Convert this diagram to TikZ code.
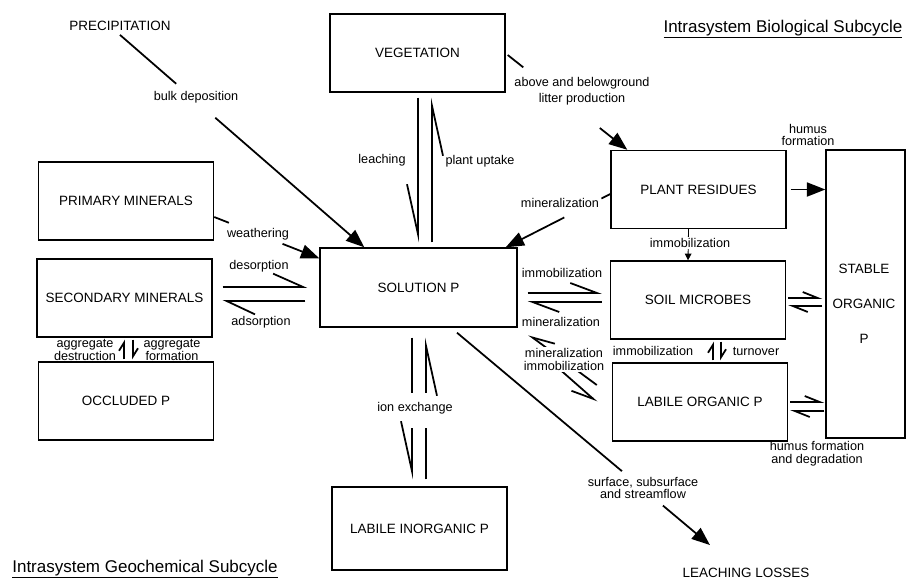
\documentclass[tikz,border=0pt]{standalone}
\usepackage{fontspec}
\setmainfont{Liberation Sans}
\usetikzlibrary{arrows.meta,positioning,calc}

\begin{document}
\begin{tikzpicture}[
    x=0.03cm, y=-0.03cm,
    box/.style={draw, line width=1.2pt, minimum width=5.25cm, minimum height=2.34cm, inner sep=0pt, font=\fontsize{11.5}{13}\selectfont},
    capsfont/.style={font=\fontsize{11.5}{13}\selectfont},
    lbl/.style={font=\fontsize{10.8}{12}\selectfont, align=center, inner sep=1pt},
    subcycle/.style={font=\fontsize{14.5}{16}\selectfont, inner sep=0pt},
    flow/.style={line width=1.5pt},
    bigarrow/.style={flow, -{Triangle[length=0.55cm, width=0.42cm]}},
    harp/.style n args={3}{flow, -{Straight Barb[#1, length=#2, width=#3]}},
    smallarrow/.style={line width=0.7pt, -{Triangle[length=0.2cm, width=0.2cm]}}
]
    \useasboundingbox (0,0) rectangle (907,579);

    % Pools of the geochemical subcycle
    \node[box] (veg) at (417.5,53) {VEGETATION};
    \node[box] (prim) at (126,201) {PRIMARY MINERALS};
    \node[box] (sec) at (124.5,298) {SECONDARY MINERALS};
    \node[box] (occl) at (126,401) {OCCLUDED P};
    \node[box, minimum width=5.91cm, minimum height=2.37cm] (sol) at (418.5,287.5) {SOLUTION P};
    \node[box, minimum height=2.49cm] (linorg) at (419.5,528.5) {LABILE INORGANIC P};

    % Pools of the biological subcycle
    \node[box] (plant) at (698.5,189.5) {PLANT RESIDUES};
    \node[box] (micro) at (698,300) {SOIL MICROBES};
    \node[box] (lorg) at (700,402) {LABILE ORGANIC P};
    \node[box, minimum width=2.37cm, minimum height=8.64cm] (stable) at (865.5,294) {};
    \node[align=center, inner sep=0pt, font=\fontsize{11.5}{29.8}\selectfont] (stabletxt) at (864,304) {STABLE\\ORGANIC\\P};

    % Inputs, outputs and titles
    \node[capsfont] (precip) at (120,26) {PRECIPITATION};
    \node[capsfont] (losses) at (746,573) {LEACHING LOSSES};
    \node[subcycle] (biotitle) at (783,29) {\underline{Intrasystem Biological Subcycle}};
    \node[subcycle] (geotitle) at (145,569) {\underline{Intrasystem Geochemical Subcycle}};

    % Bulk deposition
    \path (precip.south) -- ($(sol.north west)+(45,0)$) coordinate[pos=.23] (dep1) coordinate[pos=.39] (dep2);
    \draw[flow] (precip.south) -- (dep1);
    \draw[bigarrow] (dep2) -- ($(sol.north west)+(45,0)$);
    \node[lbl] (deplbl) at (196,97) {bulk deposition};

    % Weathering
    \path ($(prim.east)+(0,16)$) -- ($(sol.north west)+(0,11)$) coordinate[pos=.14] (wea1) coordinate[pos=.65] (wea2);
    \draw[flow] ($(prim.east)+(0,16)$) -- (wea1);
    \draw[bigarrow] (wea2) -- ($(sol.north west)+(0,11)$);
    \node[lbl] (wealbl) at (258,234) {weathering};

    % Desorption / adsorption
    \draw[harp={left}{0.9cm}{0.8cm}] ($(sec.east)+(10,-11)$) -- ($(sol.west)+(-12,-0.5)$);
    \draw[harp={left}{0.85cm}{0.8cm}] ($(sol.west)+(-14,13.5)$) -- ($(sec.east)+(10,3)$);
    \node[lbl] (desorplbl) at (259,266) {desorption};
    \node[lbl] (adsorplbl) at (261,322) {adsorption};

    % Aggregates
    \draw[harp={left}{0.24cm}{0.3cm}] ($(occl.north)+(-2,-2)$) -- ($(sec.south)+(-0.5,2)$);
    \draw[harp={left}{0.24cm}{0.3cm}] ($(sec.south)+(8.5,2)$) -- ($(occl.north)+(7,-2)$);
    \node[lbl, font=\fontsize{10.8}{9.6}\selectfont] (destrlbl) at (85,350) {aggregate\\destruction};
    \node[lbl, font=\fontsize{10.8}{9.6}\selectfont] (formlbl) at (172,350) {aggregate\\formation};

    % Leaching / plant uptake
    \draw[harp={right}{1.5cm}{0.66cm}] ($(veg.south)+(0.5,5)$) -- ($(sol.north)+(-0.5,-5)$);
    \draw[harp={right}{1.5cm}{0.66cm}] ($(sol.north)+(13.5,-5)$) -- ($(veg.south)+(14.5,5)$);
    \node[lbl] (leachlbl) at (382,160) {leaching};
    \node[lbl] (uptakelbl) at (480,161) {plant uptake};

    % Ion exchange
    \path ($(sol.south)+(-6.5,10)$) -- ($(linorg.north)+(-7.5,-7)$) coordinate[pos=.39] (iondn1) coordinate[pos=.64] (iondn2);
    \draw[flow] ($(sol.south)+(-6.5,10)$) -- (iondn1);
    \draw[harp={right}{1.5cm}{0.66cm}] (iondn2) -- ($(linorg.north)+(-7.5,-7)$);
    \path ($(linorg.north)+(6.5,-7)$) -- ($(sol.south)+(7.5,10)$) coordinate[pos=.36] (ionup1) coordinate[pos=.61] (ionup2);
    \draw[flow] ($(linorg.north)+(6.5,-7)$) -- (ionup1);
    \draw[harp={right}{1.5cm}{0.66cm}] (ionup2) -- ($(sol.south)+(7.5,10)$);
    \node[lbl] (ionlbl) at (415,408) {ion exchange};

    % Litter production
    \path ($(veg.east)+(2,2)$) -- ($(plant.north west)+(17,0)$) coordinate[pos=.13] (lit1) coordinate[pos=.77] (lit2);
    \draw[flow] ($(veg.east)+(2,2)$) -- (lit1);
    \draw[bigarrow] (lit2) -- ($(plant.north west)+(17,0)$);
    \node[lbl, font=\fontsize{10.8}{13.6}\selectfont] (litlbl) at (582,91) {above and belowground\\litter production};

    % Mineralization of plant residues
    \path ($(plant.west)+(0,4.5)$) -- ($(sol.north east)+(-12,0)$) coordinate[pos=.085] (min1) coordinate[pos=.44] (min2);
    \draw[flow] ($(plant.west)+(0,4.5)$) -- (min1);
    \draw[bigarrow] (min2) -- ($(sol.north east)+(-12,0)$);
    \node[lbl] (minlbl) at (560,203) {mineralization};

    % Humus formation
    \draw[bigarrow] ($(plant.east)+(4,0)$) -- (plant.east -| stable.west);
    \node[lbl, font=\fontsize{10.8}{10.2}\selectfont] (humuslbl) at (808,135) {humus\\formation};

    % Immobilization by microbes
    \draw[smallarrow] ($(plant.south)+(-10,0)$) -- ($(micro.north)+(-10,0)$);
    \node[lbl, fill=white] (immolbl) at (690,243) {immobilization};

    % Solution P <-> soil microbes
    \draw[harp={left}{0.8cm}{0.6cm}] ($(sol.east)+(10,5.5)$) -- ($(micro.west)+(-8,-7)$);
    \draw[harp={left}{0.8cm}{0.6cm}] ($(micro.west)+(-8,2)$) -- ($(sol.east)+(10,14.5)$);
    \node[lbl] (smimmolbl) at (562,273) {immobilization};
    \node[lbl] (smminlbl) at (561,322) {mineralization};

    % Solution P <-> labile organic P
    \draw[harp={right}{0.65cm}{0.5cm}] ($(lorg.west)+(-15,-17)$) -- ($(sol.south east)+(11,7)$);
    \draw[harp={right}{0.65cm}{0.5cm}] ($(sol.south east)+(39,39)$) -- ($(lorg.west)+(-15,0)$);
    \node[lbl, fill=white, font=\fontsize{10.8}{11}\selectfont] (slolbl) at (564,359.5) {mineralization\\immobilization};

    % Soil microbes <-> labile organic P
    \draw[harp={left}{0.24cm}{0.3cm}] ($(lorg.north)+(13,-2)$) -- ($(micro.south)+(15,2)$);
    \draw[harp={left}{0.24cm}{0.3cm}] ($(micro.south)+(23,2)$) -- ($(lorg.north)+(21,-2)$);
    \node[lbl] (mlimmolbl) at (653,351) {immobilization};
    \node[lbl] (turnlbl) at (756,351) {turnover};

    % Exchanges with stable organic P
    \draw[harp={left}{0.45cm}{0.36cm}] ($(micro.east)+(2,-2)$) -- ($(micro.east -| stable.west)+(-3,-2)$);
    \draw[harp={left}{0.45cm}{0.36cm}] ($(micro.east -| stable.west)+(-3,6)$) -- ($(micro.east)+(2,6)$);
    \draw[harp={left}{0.45cm}{0.36cm}] ($(lorg.east)+(2,0)$) -- ($(lorg.east -| stable.west)+(-1,0)$);
    \draw[harp={left}{0.45cm}{0.36cm}] ($(lorg.east -| stable.west)+(-1,9)$) -- ($(lorg.east)+(2,9)$);
    \node[lbl, font=\fontsize{10.8}{11}\selectfont] (degrlbl) at (817,454) {humus formation\\and degradation};

    % Leaching losses
    \path ($(sol.south)+(38.5,5)$) -- ($(losses.north)+(-36,-19)$) coordinate[pos=.652] (loss1) coordinate[pos=.814] (loss2);
    \draw[flow] ($(sol.south)+(38.5,5)$) -- (loss1);
    \draw[bigarrow] (loss2) -- ($(losses.north)+(-36,-19)$);
    \node[lbl, font=\fontsize{10.8}{9.6}\selectfont] (surflbl) at (643,488) {surface, subsurface\\and streamflow};

\end{tikzpicture}
\end{document}
